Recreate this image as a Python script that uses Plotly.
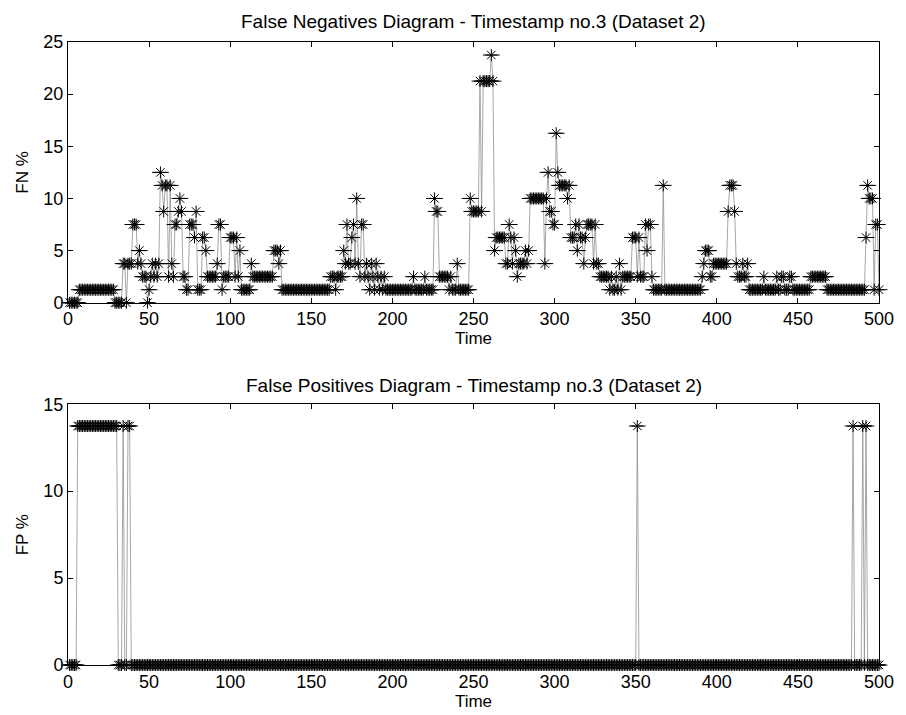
import plotly.graph_objects as go
from plotly.subplots import make_subplots

fn_values = [
    0, 0, 0, 0, 0, 0, 1.25, 1.25, 1.25, 1.25,
    1.25, 1.25, 1.25, 1.25, 1.25, 1.25, 1.25, 1.25, 1.25, 1.25,
    1.25, 1.25, 1.25, 1.25, 1.25, 1.25, 1.25, 1.25, 0, 0,
    0, 0, 0, 3.75, 3.75, 0, 3.75, 3.75, 3.75, 7.5,
    7.5, 7.5, 3.75, 5, 3.75, 2.5, 2.5, 2.5, 0, 1.25,
    2.5, 3.75, 2.5, 3.75, 2.5, 3.75, 12.5, 11.25, 8.75, 11.25,
    11.25, 2.5, 11.25, 3.75, 2.5, 7.5, 7.5, 8.75, 10, 8.75,
    2.5, 2.5, 1.25, 1.25, 7.5, 7.5, 7.5, 6.25, 8.75, 1.25,
    1.25, 1.25, 6.25, 6.25, 5, 2.5, 2.5, 2.5, 2.5, 2.5,
    2.5, 3.75, 7.5, 7.5, 1.25, 2.5, 2.5, 2.5, 2.5, 6.25,
    6.25, 6.25, 2.5, 6.25, 2.5, 5, 1.25, 1.25, 1.25, 1.25,
    1.25, 1.25, 3.75, 2.5, 2.5, 2.5, 2.5, 2.5, 2.5, 2.5,
    2.5, 2.5, 2.5, 2.5, 2.5, 2.5, 5, 5, 5, 3.75,
    5, 1.25, 1.25, 1.25, 1.25, 1.25, 1.25, 1.25, 1.25, 1.25,
    1.25, 1.25, 1.25, 1.25, 1.25, 1.25, 1.25, 1.25, 1.25, 1.25,
    1.25, 1.25, 1.25, 1.25, 1.25, 1.25, 1.25, 1.25, 1.25, 1.25,
    1.25, 2.5, 2.5, 2.5, 1.25, 2.5, 2.5, 2.5, 2.5, 5,
    3.75, 7.5, 3.75, 3.75, 6.25, 7.5, 3.75, 10, 3.75, 2.5,
    7.5, 7.5, 2.5, 3.75, 2.5, 1.25, 3.75, 2.5, 1.25, 3.75,
    2.5, 1.25, 2.5, 1.25, 2.5, 1.25, 1.25, 1.25, 1.25, 1.25,
    1.25, 1.25, 1.25, 1.25, 1.25, 1.25, 1.25, 1.25, 1.25, 1.25,
    1.25, 1.25, 2.5, 1.25, 1.25, 1.25, 1.25, 1.25, 1.25, 2.5,
    1.25, 1.25, 1.25, 1.25, 1.25, 10, 8.75, 8.75, 2.5, 2.5,
    2.5, 2.5, 2.5, 2.5, 1.25, 2.5, 1.25, 1.25, 1.25, 3.75,
    1.25, 1.25, 1.25, 1.25, 1.25, 1.25, 1.25, 10, 8.75, 8.75,
    8.75, 8.75, 8.75, 21.25, 8.75, 21.25, 21.25, 21.25, 21.25, 21.25,
    23.75, 21.25, 5, 6.25, 6.25, 6.25, 6.25, 6.25, 6.25, 3.75,
    3.75, 7.5, 6.25, 3.75, 6.25, 5, 2.5, 3.75, 3.75, 3.75,
    3.75, 5, 3.75, 5, 10, 10, 10, 10, 10, 10,
    10, 10, 10, 3.75, 10, 12.5, 8.75, 8.75, 7.5, 7.5,
    16.25, 12.5, 11.25, 11.25, 11.25, 11.25, 11.25, 10, 11.25, 6.25,
    6.25, 6.25, 7.5, 5, 7.5, 6.25, 6.25, 3.75, 6.25, 7.5,
    7.5, 7.5, 7.5, 3.75, 7.5, 3.75, 3.75, 2.5, 2.5, 2.5,
    2.5, 2.5, 2.5, 1.25, 2.5, 1.25, 1.25, 2.5, 1.25, 3.75,
    1.25, 2.5, 2.5, 2.5, 2.5, 2.5, 2.5, 6.25, 6.25, 6.25,
    2.5, 6.25, 2.5, 2.5, 2.5, 7.5, 5, 7.5, 7.5, 2.5,
    1.25, 1.25, 1.25, 1.25, 1.25, 1.25, 11.25, 1.25, 1.25, 1.25,
    1.25, 1.25, 1.25, 1.25, 1.25, 1.25, 1.25, 1.25, 1.25, 1.25,
    1.25, 1.25, 1.25, 1.25, 1.25, 1.25, 1.25, 1.25, 1.25, 1.25,
    2.5, 3.75, 5, 5, 5, 2.5, 2.5, 3.75, 3.75, 3.75,
    3.75, 3.75, 3.75, 3.75, 3.75, 3.75, 8.75, 11.25, 11.25, 11.25,
    8.75, 3.75, 2.5, 2.5, 2.5, 3.75, 2.5, 2.5, 3.75, 1.25,
    1.25, 1.25, 1.25, 1.25, 1.25, 1.25, 1.25, 1.25, 2.5, 1.25,
    1.25, 1.25, 1.25, 1.25, 1.25, 1.25, 2.5, 1.25, 1.25, 2.5,
    2.5, 1.25, 1.25, 1.25, 2.5, 2.5, 1.25, 1.25, 1.25, 1.25,
    1.25, 1.25, 1.25, 1.25, 1.25, 1.25, 1.25, 2.5, 2.5, 2.5,
    2.5, 2.5, 2.5, 2.5, 2.5, 2.5, 2.5, 1.25, 1.25, 1.25,
    1.25, 1.25, 1.25, 1.25, 1.25, 1.25, 1.25, 1.25, 1.25, 1.25,
    1.25, 1.25, 1.25, 1.25, 1.25, 1.25, 1.25, 1.25, 1.25, 1.25,
    1.25, 6.25, 11.25, 10, 10, 10, 1.25, 7.5, 7.5, 1.25,
]

# FP %: read as runs (value, number of consecutive timestamps)
fp_runs = [
    (0, 5), (13.75, 25), (0, 3), (13.75, 1), (0, 2), (13.75, 2),
    (0, 312), (13.75, 1), (0, 132), (13.75, 1), (0, 5), (13.75, 1),
    (0, 1), (13.75, 1), (0, 8),
]
fp_values = []
for val, count in fp_runs:
    fp_values += [val] * count

time = list(range(1, len(fn_values) + 1))
time_fp = list(range(1, len(fp_values) + 1))

x_ticks = [0, 50, 100, 150, 200, 250, 300, 350, 400, 450, 500]
fn_ticks = [0, 5, 10, 15, 20, 25]
fp_ticks = [0, 5, 10, 15]

FONT = "Liberation Sans, Arial, sans-serif"
FS_TICK = 18
FS_LAB = 17
FS_TITLE = 19

fig = make_subplots(rows=2, cols=1, vertical_spacing=0.163)

for r, (xs, ys) in enumerate([(time, fn_values), (time_fp, fp_values)], start=1):
    fig.add_trace(go.Scatter(
        x=xs, y=ys, mode="lines+markers",
        line=dict(color="#909090", width=0.8),
        marker=dict(symbol="asterisk-open", size=10, color="black",
                    line=dict(color="black", width=1)),
        cliponaxis=False, showlegend=False,
    ), row=r, col=1)
    # MATLAB's '*' marker renders with a longer horizontal arm
    fig.add_trace(go.Scatter(
        x=xs, y=ys, mode="markers",
        marker=dict(symbol="line-ew-open", size=12, color="black",
                    line=dict(color="black", width=1)),
        cliponaxis=False, showlegend=False, hoverinfo="skip",
    ), row=r, col=1)

axis_style = dict(
    showline=True, linecolor="black", linewidth=1, mirror="ticks",
    ticks="inside", ticklen=5, tickcolor="black", tickwidth=1,
    showgrid=False, zeroline=False,
    tickfont=dict(family=FONT, size=FS_TICK, color="black"),
)

for r, (yt, yr, lab) in enumerate([(fn_ticks, [0, 25], "FN %"), (fp_ticks, [0, 15], "FP %")], start=1):
    fig.update_xaxes(range=[0, 500], tickvals=x_ticks,
                     title=dict(text="Time", font=dict(family=FONT, size=FS_LAB, color="black"), standoff=0),
                     row=r, col=1, **axis_style)
    fig.update_yaxes(range=yr, tickvals=yt,
                     title=dict(text=lab, font=dict(family=FONT, size=FS_LAB, color="black"), standoff=10),
                     row=r, col=1, **axis_style)

fig.update_layout(
    width=906, height=715,
    margin=dict(l=68, r=17, t=42, b=48),
    paper_bgcolor="white", plot_bgcolor="white",
    font=dict(family=FONT, size=FS_LAB, color="black"),
    annotations=[
        dict(text="False Negatives Diagram - Timestamp no.3 (Dataset 2)", xref="paper", yref="paper",
             x=0.5, y=1.0325, xanchor="center", yanchor="middle", showarrow=False,
             font=dict(family=FONT, size=FS_TITLE, color="black")),
        dict(text="False Positives Diagram - Timestamp no.3 (Dataset 2)", xref="paper", yref="paper",
             x=0.5, y=0.4485, xanchor="center", yanchor="middle", showarrow=False,
             font=dict(family=FONT, size=FS_TITLE, color="black")),
    ],
)

fig.write_html("out.html")
